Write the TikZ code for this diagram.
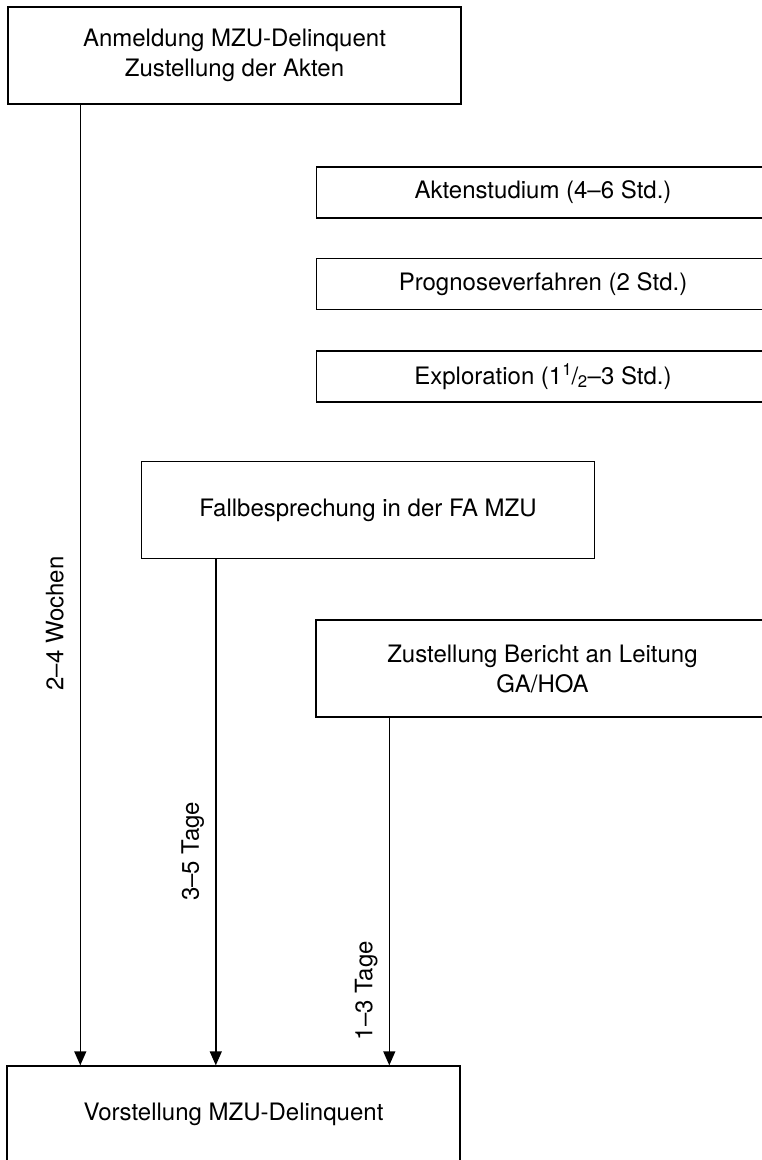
\documentclass[tikz,border=0pt]{standalone}
\usepackage{fontspec}
\setmainfont{TeX Gyre Heros}
\usetikzlibrary{positioning}
\usetikzlibrary{arrows.meta}

\begin{document}
\begin{tikzpicture}[
        x=1pt,
        y=1pt,
        box/.style={
            draw,
            line width=1.4pt,
            minimum width=453pt,
            minimum height=97pt,
            align=center,
            font=\fontsize{24}{30}\selectfont,
        },
        smallbox/.style={
            box,
            minimum height=51pt,
        },
        flow/.style={
            -{Triangle[length=14pt,width=12pt]},
            line width=1.4pt,
        },
        duration/.style={
            rotate=90,
            anchor=base,
            yshift=17pt,
            font=\fontsize{24}{30}\selectfont,
        },
    ]
    \useasboundingbox (0,0) rectangle (762,-1160);
    \clip (0,0) rectangle (762,-1160);

    % Define main boxes.
    \node[box] (anmeldung) at (234.5,-55.5) {Anmeldung MZU-Delinquent\\Zustellung der Akten};
    \node[box] (fall) at (368,-510) {Fallbesprechung in der FA MZU};
    \node[box] (bericht) at (542.5,-668.5) {Zustellung Bericht an Leitung\\GA/HOA};
    \node[box] (vorstellung) at (233.5,-1114.5) {Vorstellung MZU-Delinquent};

    % Define work steps.
    \node[smallbox] (akten) at (543,-192.5) {Aktenstudium (4--6 Std.)};
    \node[smallbox, below=39pt of akten] (prognose) {Prognoseverfahren (2 Std.)};
    \node[smallbox, below=40pt of prognose] (exploration)
        {Exploration (1\textsuperscript{1}\kern-0.5pt/\kern-0.5pt\textsubscript{2}--3 Std.)};

    % Define start points of the arrows.
    \coordinate (a1) at ([xshift=73pt]anmeldung.south west);
    \coordinate (a2) at ([xshift=75pt]fall.south west);
    \coordinate (a3) at ([xshift=74pt]bericht.south west);

    % Draw arrows.
    \draw[flow] (a1) -- node[duration, pos=0.54] {2--4 Wochen} (a1 |- vorstellung.north);
    \draw[flow] (a2) -- node[duration, pos=0.577] {3--5 Tage} (a2 |- vorstellung.north);
    \draw[flow] (a3) -- node[duration, pos=0.785] {1--3 Tage} (a3 |- vorstellung.north);

\end{tikzpicture}
\end{document}
